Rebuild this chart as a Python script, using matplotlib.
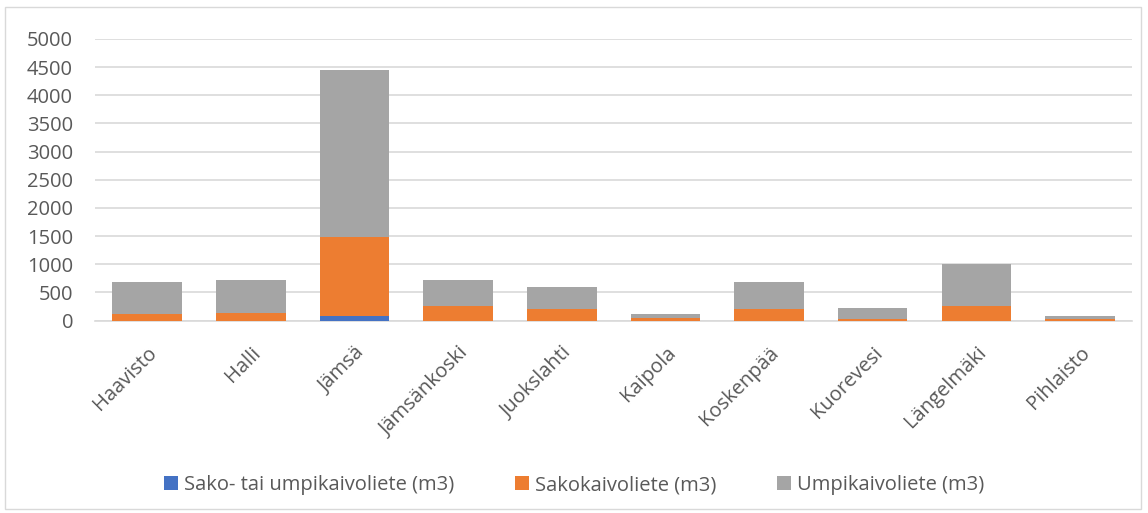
import numpy as np
import matplotlib.pyplot as plt
from matplotlib.patches import Rectangle

plt.rcParams['font.family'] = ['Open Sans', 'DejaVu Sans']

# Data
places = ['Haavisto', 'Halli', 'Jämsä', 'Jämsänkoski', 'Juokslahti',
          'Kaipola', 'Koskenpää', 'Kuorevesi', 'Längelmäki', 'Pihlaisto']
sako_tai_umpi = [0, 0, 80, 0, 0, 0, 0, 0, 0, 0]
sako = [115, 130, 1400, 260, 205, 50, 200, 30, 260, 25]
umpi = [565, 590, 2970, 460, 395, 70, 490, 195, 745, 60]
series_names = ['Sako- tai umpikaivoliete (m3)', 'Sakokaivoliete (m3)', 'Umpikaivoliete (m3)']
colors = ['#4472C4', '#ED7D31', '#A5A5A5']

fig = plt.figure(figsize=(11.48, 5.13), dpi=100)
ax = fig.add_axes([0.083, 0.375, 0.903, 0.549])

x = np.arange(len(places))
w = 0.67
bottom = np.zeros(len(places))
for vals, name, c in zip([sako_tai_umpi, sako, umpi], series_names, colors):
    ax.bar(x, vals, w, bottom=bottom, color=c, label=name, zorder=3)
    bottom += np.array(vals)

ax.set_xlim(-0.5, len(places) - 0.5)
ax.set_ylim(0, 5000)
ax.set_yticks(np.arange(0, 5001, 500))
ax.yaxis.grid(True, color='#D9D9D9', linewidth=1.2, zorder=0)
ax.set_axisbelow(True)
for s in ['top', 'right', 'left']:
    ax.spines[s].set_visible(False)
ax.spines['bottom'].set_color('#D9D9D9')
ax.spines['bottom'].set_linewidth(1.2)
ax.tick_params(axis='both', length=0, labelcolor='#595959', labelsize=14.5)
ax.tick_params(axis='y', pad=16)
ax.tick_params(axis='x', pad=16)
ax.set_xticks(x)
ax.set_xticklabels(places, rotation=45, ha='right', rotation_mode='anchor')

fig.legend(loc='center', bbox_to_anchor=(0.5, 1 - 485 / 513), ncol=3, frameon=False,
           fontsize=14.5, labelcolor='#595959', handlelength=0.7, handleheight=0.7,
           columnspacing=3.0, handletextpad=0.3)

fig.patches.append(Rectangle((0.004, 0.008), 0.99, 0.978, transform=fig.transFigure,
                             fill=False, edgecolor='#D9D9D9', linewidth=1))

fig.savefig('out.png', dpi=100)
